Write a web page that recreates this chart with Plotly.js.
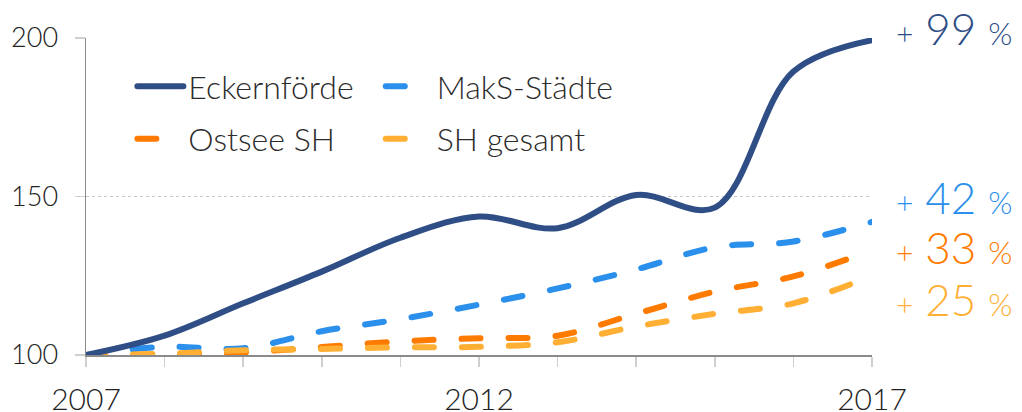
<!DOCTYPE html>
<html>
<head>
<meta charset="utf-8">
<script src="https://cdn.plot.ly/plotly-3.0.1.min.js"></script>
<style>
  html, body { margin: 0; padding: 0; background: #fff; }
  #chart { width: 1022px; height: 412px; }
  path.js-line { stroke-linecap: round !important; }
  .cartesianlayer g.plot { clip-path: none !important; }
</style>
</head>
<body>
<div id="chart"></div>
<script>
const years = [2007, 2008, 2009, 2010, 2011, 2012, 2013, 2014, 2015, 2016, 2017];
const seriesNames = ["Eckernförde", "MakS-Städte", "Ostsee SH", "SH gesamt"];
const eckernfoerde = [100, 106.1, 116.3, 126.3, 137.0, 143.7, 140.0, 150.5, 146.5, 189.4, 199.3];
const maksStaedte  = [100, 102.6, 102.1, 107.5, 111.3, 115.9, 121.0, 127.0, 134.0, 135.8, 142.0];
const ostseeSH     = [100, 100.2, 100.8, 102.5, 104.3, 105.3, 106.1, 113.0, 120.0, 124.8, 133.0];
const shGesamt     = [100, 100.4, 101.5, 101.9, 102.4, 102.6, 104.0, 109.0, 113.0, 116.3, 125.0];
const growthLabels = ["+ 99 %", "+ 42 %", "+ 33 %", "+ 25 %"];
const yTicks = [100, 150, 200];
const xTickLabels = [2007, 2012, 2017];

const colors = { navy: "#2F4E86", blue: "#2B8FEC", orange: "#FF7B00", yellow: "#FFAF33" };
const dashPattern = "19px,28px";
const textFont = "Lato, 'Open Sans', sans-serif";

function mk(name, y, color, dash, legend, rank, group) {
  return {
    type: "scatter", mode: "lines", x: years, y: y, name: name,
    line: { color: color, width: 6, dash: dash, shape: "spline", smoothing: 1 },
    legend: legend, legendrank: rank, legendgroup: group,
    hoverinfo: "skip"
  };
}

const data = [
  mk(seriesNames[1], maksStaedte, colors.blue, dashPattern, "legend2", 1, "g2"),
  mk(seriesNames[2], ostseeSH, colors.orange, dashPattern, "legend", 2, "g3"),
  mk(seriesNames[3], shGesamt, colors.yellow, dashPattern, "legend2", 2, "g4"),
  mk(seriesNames[0], eckernfoerde, colors.navy, "solid", "legend", 1, "g1")
];

function lbl(text) {
  const parts = text.split(" ");
  return "<span style='font-size:30px'>" + parts[0] + "</span> " + parts[1] +
         " <span style='font-size:31px'>" + parts[2] + "</span>";
}

// label anchor heights in paper fraction of the plot area
const labelY = [1.03, 0.497, 0.34, 0.177];
const labelColors = [colors.navy, colors.blue, colors.orange, colors.yellow];
const annotations = growthLabels.map((t, i) => ({
  xref: "paper", yref: "paper", x: 1, y: labelY[i], xanchor: "left", yanchor: "middle",
  xshift: 22, showarrow: false, text: lbl(t),
  font: { family: textFont, size: 44, color: labelColors[i], weight: 300 }
}));

const legendCommon = {
  orientation: "v", bgcolor: "rgba(0,0,0,0)", borderwidth: 0,
  font: { family: textFont, size: 32, color: "#2b2b2b", weight: 300 },
  tracegroupgap: 8, itemclick: false, itemdoubleclick: false, itemwidth: 46,
  xanchor: "left", yanchor: "top"
};

const layout = {
  width: 1022, height: 412,
  margin: { l: 86, r: 150, t: 38, b: 57, pad: 0 },
  paper_bgcolor: "#fff", plot_bgcolor: "#fff",
  showlegend: true,
  legend: Object.assign({}, legendCommon, { x: 0.059, y: 0.934 }),
  legend2: Object.assign({}, legendCommon, { x: 0.375, y: 0.934 }),
  xaxis: {
    range: [2007, 2017], tickmode: "array", tickvals: xTickLabels, ticktext: xTickLabels.map(String),
    showgrid: false, zeroline: false, showline: true, linecolor: "#8a8a8a", linewidth: 1.5,
    ticks: "outside", ticklen: 10, tickcolor: "#cfcfcf", tickwidth: 1.5,
    minor: { dtick: 1, tick0: 2007, ticks: "outside", ticklen: 10, tickcolor: "#cfcfcf", tickwidth: 1.5, showgrid: false },
    tickfont: { family: textFont, size: 30, color: "#222", weight: 300 },
    ticklabelstandoff: 7, fixedrange: true
  },
  yaxis: {
    range: [100, 200], tickmode: "array", tickvals: yTicks,
    showgrid: true, gridcolor: "#c8c8c8", gridwidth: 1, griddash: "dot",
    zeroline: false, showline: true, linecolor: "#8a8a8a", linewidth: 1.5,
    ticks: "outside", ticklen: 10, tickcolor: "#cfcfcf", tickwidth: 1.5,
    tickfont: { family: textFont, size: 27, color: "#222", weight: 300 },
    ticklabelstandoff: 11, fixedrange: true
  },
  annotations: annotations
};

Plotly.newPlot("chart", data, layout, { staticPlot: true, displayModeBar: false });
</script>
</body>
</html>
